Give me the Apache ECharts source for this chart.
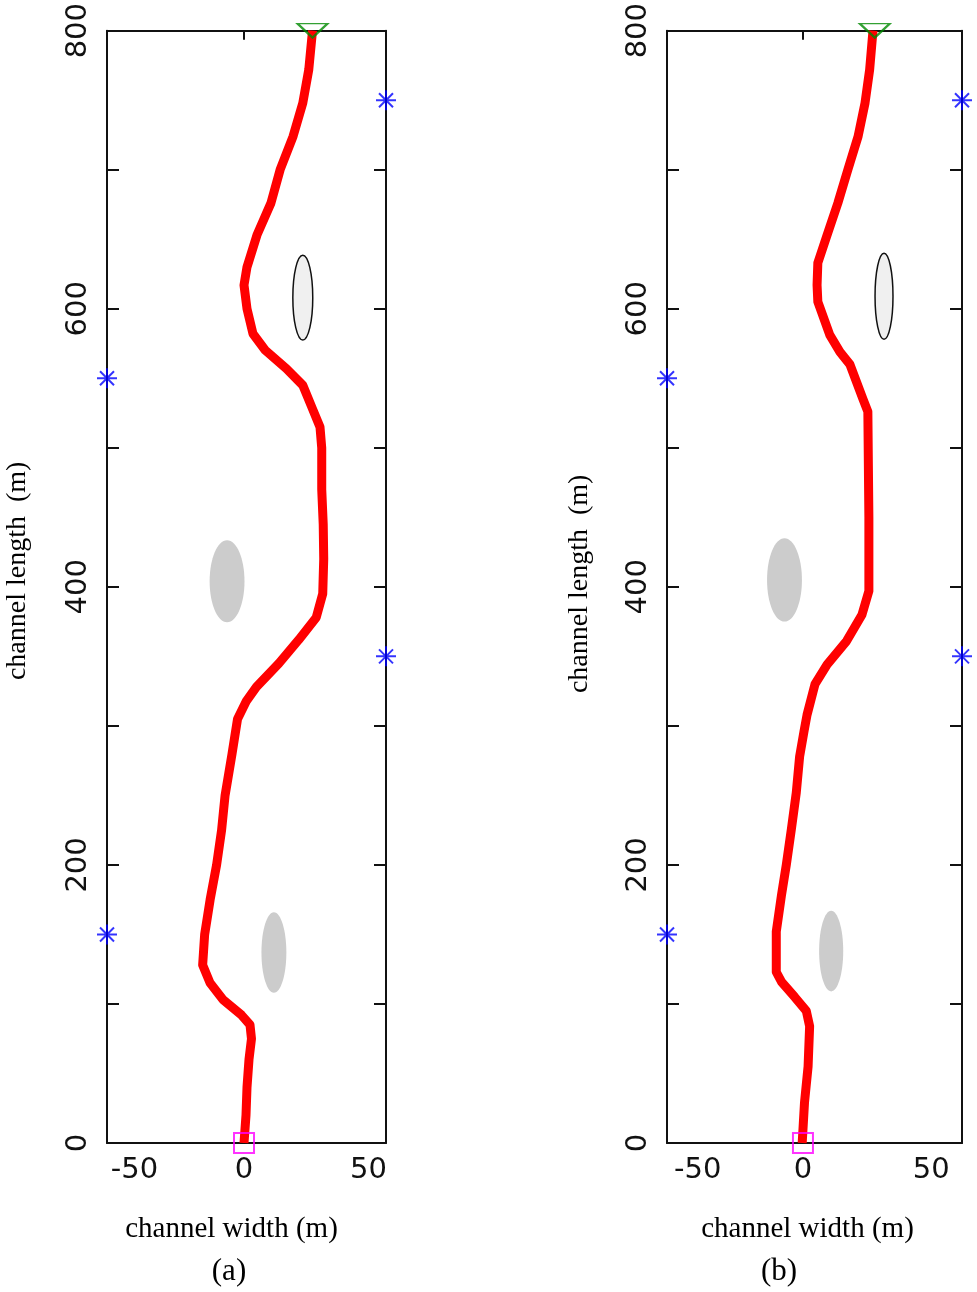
<!DOCTYPE html>
<html>
<head>
<meta charset="utf-8">
<script src="https://cdn.jsdelivr.net/npm/echarts@6/dist/echarts.min.js"></script>
<style>
html, body { margin: 0; padding: 0; background: #fff; }
#main { width: 977px; height: 1292px; }
</style>
</head>
<body>
<div id="main"></div>
<script>
// tick labels
var widthTicks = [-50, 0, 50];
var lengthLabels = [0, 200, 400, 600, 800];

// axis extents of each panel (m)
var rangeA = [-55, 57];
var rangeB = [-53, 62];

// planned path, panel (a)
var pathAy = [0, 20, 40, 60, 75, 85, 92, 103, 115, 128, 150, 175, 200, 225, 250, 280, 305, 318, 328, 345, 362, 378, 395, 420, 445, 470, 500, 515, 528, 545, 557, 570, 582, 600, 617, 630, 653, 676, 700, 724, 748, 772, 800];
var pathAx = [0, 0.8, 1.2, 2.0, 3.0, 2.4, -1, -8.4, -13.6, -16.6, -15.8, -13.6, -11, -9, -7.6, -4.8, -2.6, 1, 5, 14, 22, 29, 31.6, 32, 31.8, 31.2, 31.2, 30.5, 27.5, 23.6, 17, 8.6, 3.6, 1.2, 0, 1.2, 5.2, 10.8, 14.5, 19.7, 23.6, 26, 27.5];

// planned path, panel (b)
var pathBy = [0, 29, 55, 84, 95, 105, 116, 123, 152, 178, 200, 226, 252, 278, 296, 308, 330, 344, 361, 380, 397, 450, 526, 535, 560, 569, 581, 605, 617, 633, 653, 676, 700, 724, 748, 772, 800];
var pathBx = [-0.3, 0.6, 2, 2.6, 1.3, -3.2, -8.4, -10.4, -10.4, -8.4, -6.5, -4.5, -2.6, -1.3, 0.4, 1.6, 4.7, 9.4, 17, 23, 25.7, 25.7, 25.3, 23.4, 18.3, 14.4, 10.5, 5.8, 5.5, 5.8, 9.4, 13.6, 17.5, 21.5, 24.2, 26, 27.3];

// obstacles: [x, y, half width, half length]
var outlinedObsA = [[23.6, 608, 4, 30.5]];
var filledObsA = [[-6.8, 404, 7, 29.5], [12, 137, 5, 29]];
var outlinedObsB = [[31.6, 609, 3.5, 31]];
var filledObsB = [[-7.2, 405, 6.8, 30], [11, 138, 4.7, 29]];

// start, goal and beacons
var startA = [[0, 0]];
var goalA = [[27.5, 800]];
var beaconsA = [[-55, 550], [-55, 150], [57, 750], [57, 350]];
var startB = [[0, 0]];
var goalB = [[28, 800]];
var beaconsB = [[-53, 550], [-53, 150], [62, 750], [62, 350]];

var myChart = echarts.init(document.getElementById('main'));

var frame = { color: '#111', width: 2 };
var tickFont = 'DejaVu Sans';

function pairs(xs, ys) {
    return xs.map(function (x, i) { return [x, ys[i]]; });
}

function ellipseItem(fill, stroke) {
    return function (params, api) {
        var c = api.coord([api.value(0), api.value(1)]);
        var s = api.size([api.value(2), api.value(3)]);
        return {
            type: 'ellipse',
            shape: { cx: c[0], cy: c[1], rx: s[0], ry: s[1] },
            style: { fill: fill, stroke: stroke, lineWidth: stroke ? 1.5 : 0 }
        };
    };
}

function xAxesFor(g, range, shift, nameShift) {
    return [{
        gridIndex: g,
        type: 'value',
        min: range[0],
        max: range[1],
        position: 'bottom',
        name: 'channel width (m)',
        nameLocation: 'middle',
        nameGap: 72,
        nameTextStyle: {
            fontFamily: 'Liberation Serif', fontSize: 29, color: '#000',
            padding: [0, nameShift * 2, 0, 0]
        },
        axisLine: { show: true, onZero: false, lineStyle: frame },
        axisTick: { show: true, inside: true, length: 9, customValues: [0], lineStyle: frame },
        axisLabel: {
            margin: 13,
            customValues: widthTicks,
            fontFamily: tickFont, fontSize: 29, color: '#111',
            formatter: function (v) { return v < 0 ? '{m|' + v + '}' : String(v); },
            rich: { m: { padding: [0, 0, 0, shift * 2], fontFamily: tickFont, fontSize: 29, color: '#111' } }
        },
        splitLine: { show: false }
    }, {
        gridIndex: g,
        type: 'value',
        min: range[0],
        max: range[1],
        position: 'top',
        axisLine: { show: true, onZero: false, lineStyle: frame },
        axisTick: { show: true, inside: true, length: 9, customValues: [0], lineStyle: frame },
        axisLabel: { show: false },
        splitLine: { show: false }
    }];
}

function yAxesFor(g, nameGap, nameShift) {
    return [{
        gridIndex: g,
        type: 'value',
        min: 0,
        max: 800,
        interval: 100,
        position: 'left',
        name: 'channel length  (m)',
        nameLocation: 'middle',
        nameGap: nameGap,
        nameRotate: 90,
        nameTextStyle: {
            fontFamily: 'Liberation Serif', fontSize: 28, color: '#000',
            padding: [0, 0, 0, nameShift * 2]
        },
        axisLine: { show: true, onZero: false, lineStyle: frame },
        axisTick: { show: true, inside: true, length: 12, lineStyle: frame },
        axisLabel: {
            rotate: 90,
            margin: 14,
            customValues: lengthLabels,
            fontFamily: tickFont, fontSize: 29, color: '#111'
        },
        splitLine: { show: false }
    }, {
        gridIndex: g,
        type: 'value',
        min: 0,
        max: 800,
        interval: 100,
        position: 'right',
        axisLine: { show: true, onZero: false, lineStyle: frame },
        axisTick: { show: true, inside: true, length: 12, lineStyle: frame },
        axisLabel: { show: false },
        splitLine: { show: false }
    }];
}

var asterisk = 'path://M10,0L10,20M0,10L20,10M3,3L17,17M3,17L17,3';
var triangle = 'path://M0,0L20,0L10,10Z';

function panelSeries(ax, path, outlined, filled, start, goal, beacons) {
    return [{
        type: 'custom',
        xAxisIndex: ax, yAxisIndex: ax,
        renderItem: ellipseItem('#cccccc', null),
        encode: { x: 0, y: 1 },
        data: filled,
        silent: true
    }, {
        type: 'custom',
        xAxisIndex: ax, yAxisIndex: ax,
        renderItem: ellipseItem('#f0f0f0', '#111'),
        encode: { x: 0, y: 1 },
        data: outlined,
        silent: true
    }, {
        type: 'line',
        xAxisIndex: ax, yAxisIndex: ax,
        data: path,
        symbol: 'none',
        clip: false,
        z: 3,
        lineStyle: { color: '#ff0000', width: 9, join: 'round' }
    }, {
        type: 'scatter',
        xAxisIndex: ax, yAxisIndex: ax,
        data: start,
        symbol: 'rect',
        symbolSize: 20,
        clip: false,
        z: 4,
        itemStyle: { color: 'rgba(0,0,0,0)', borderColor: '#ff00ff', borderWidth: 2 }
    }, {
        type: 'scatter',
        xAxisIndex: ax, yAxisIndex: ax,
        data: goal,
        symbol: triangle,
        symbolSize: [30, 14],
        clip: false,
        z: 4,
        itemStyle: { color: 'rgba(0,0,0,0)', borderColor: '#008a00', borderWidth: 2 }
    }, {
        type: 'scatter',
        xAxisIndex: ax, yAxisIndex: ax,
        data: beacons,
        symbol: asterisk,
        symbolSize: 20,
        clip: false,
        z: 4,
        itemStyle: { color: 'rgba(0,0,0,0)', borderColor: '#0000ff', borderWidth: 2 }
    }];
}

var option = {
    animation: false,
    backgroundColor: '#fff',
    title: [{
        text: '(a)', left: 229, top: 1256, textAlign: 'center', padding: 0,
        textStyle: { fontFamily: 'Liberation Serif', fontSize: 31, fontWeight: 'normal', color: '#000' }
    }, {
        text: '(b)', left: 779, top: 1256, textAlign: 'center', padding: 0,
        textStyle: { fontFamily: 'Liberation Serif', fontSize: 31, fontWeight: 'normal', color: '#000' }
    }],
    grid: [
        { left: 107, top: 28, width: 279, height: 1115 },
        { left: 667, top: 28, width: 295, height: 1115 }
    ],
    xAxis: xAxesFor(0, rangeA, 15, 15).concat(xAxesFor(1, rangeB, 23, 7)),
    yAxis: yAxesFor(0, 75, 16).concat(yAxesFor(1, 73, 3)),
    series: panelSeries(0, pairs(pathAx, pathAy), outlinedObsA, filledObsA, startA, goalA, beaconsA)
        .concat(panelSeries(2, pairs(pathBx, pathBy), outlinedObsB, filledObsB, startB, goalB, beaconsB))
};

myChart.setOption(option);
</script>
</body>
</html>
